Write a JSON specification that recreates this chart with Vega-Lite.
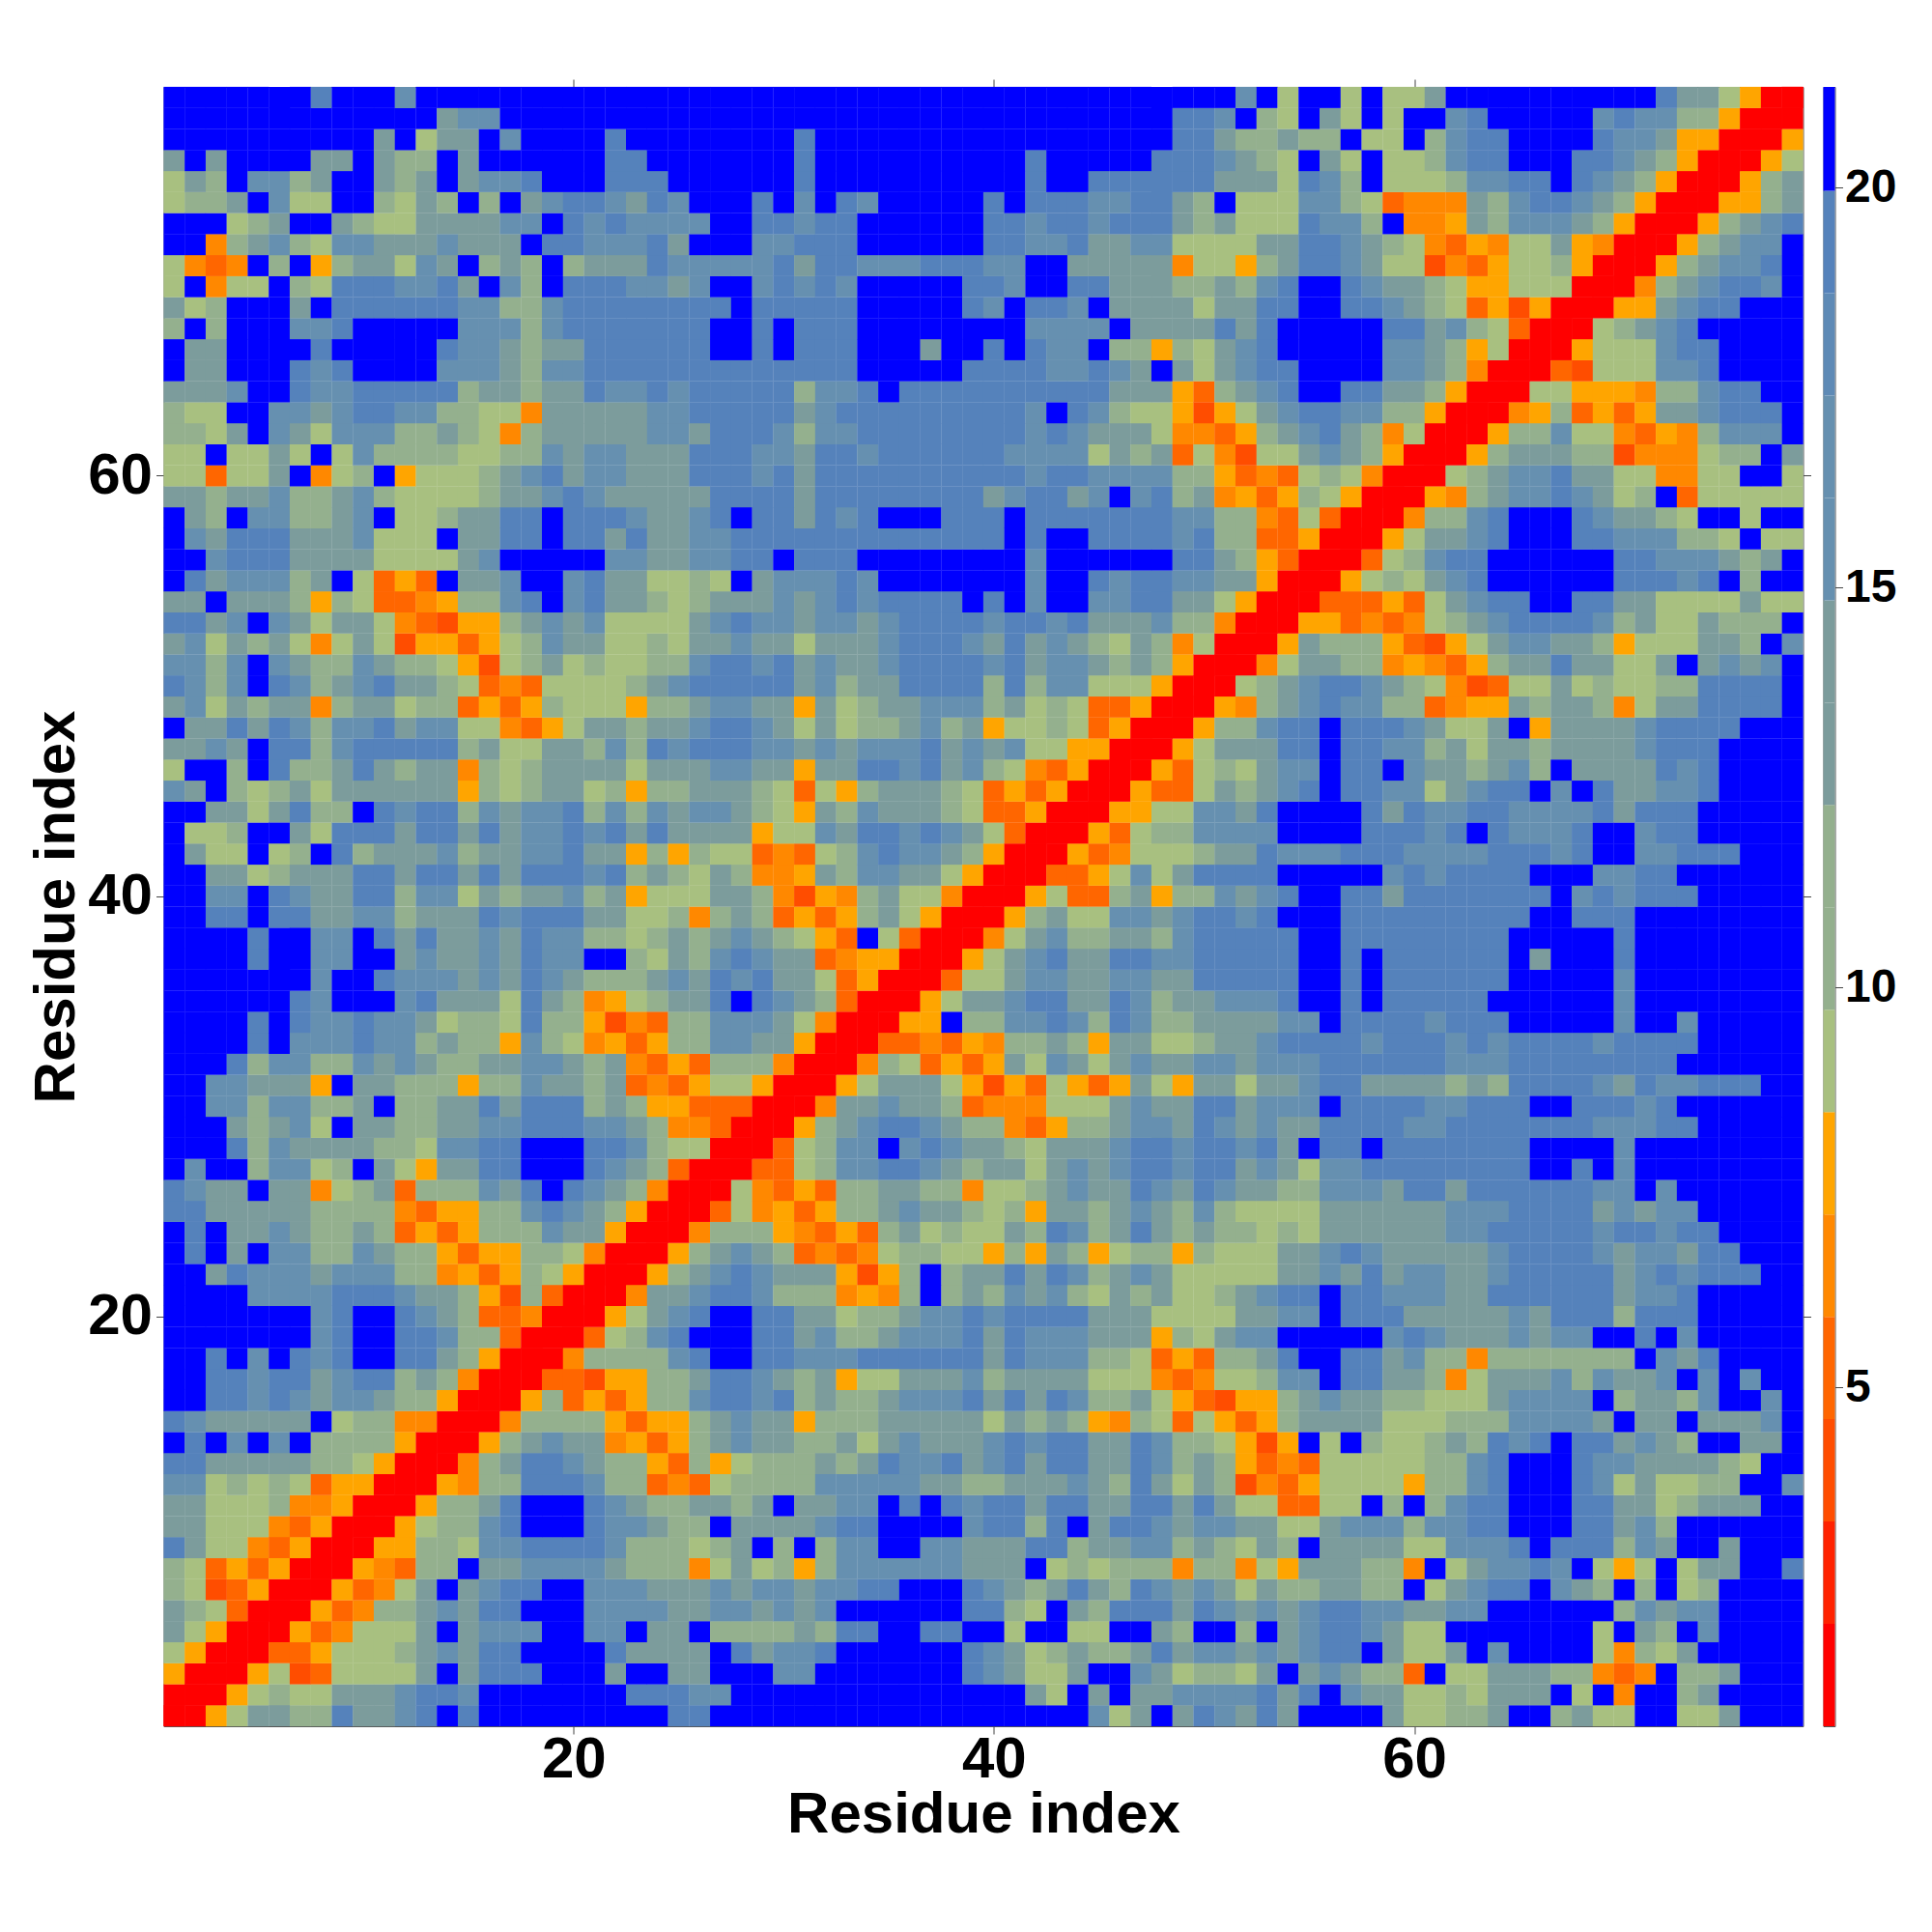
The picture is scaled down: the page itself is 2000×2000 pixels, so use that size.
{"$schema":"https://vega.github.io/schema/vega-lite/v6.json","background":"white","padding":{"left":27.5,"top":81,"right":0,"bottom":0},"config":{"view":{"stroke":"#555555","strokeWidth":1},"font":"Liberation Sans"},"spacing":11,"datasets":{"bands":[{"lo":0.76,"hi":2.04,"v":1.4},{"lo":2.04,"hi":3.32,"v":2.7},{"lo":3.32,"hi":4.6,"v":4},{"lo":4.6,"hi":5.88,"v":5.2},{"lo":5.88,"hi":7.16,"v":6.5},{"lo":7.16,"hi":8.44,"v":7.8},{"lo":8.44,"hi":9.72,"v":9.1},{"lo":9.72,"hi":11,"v":10.4},{"lo":11,"hi":12.28,"v":11.6},{"lo":12.28,"hi":13.56,"v":12.9},{"lo":13.56,"hi":14.84,"v":14.2},{"lo":14.84,"hi":16.12,"v":15.5},{"lo":16.12,"hi":17.4,"v":16.8},{"lo":17.4,"hi":18.68,"v":18.1},{"lo":18.68,"hi":19.96,"v":19.3},{"lo":19.96,"hi":21.26,"v":20.6}],
"cells":[
{"y":1,"x":[1,2,3,4,5,6,7,8,9,10,11,12,13,14,15,16,17,18,19,20,21,22,23,24,25,26,27,28,29,30,31,32,33,34,35,36,37,38,39,40,41,42,43,44,45,46,47,48,49,50,51,52,53,54,55,56,57,58,59,60,61,62,63,64,65,66,67,68,69,70,71,72,73,74,75,76,77,78],"v":[1,1,8,9,13,13,10,10,19,13,13,16,19,21,19,21,21,21,21,21,21,21,21,21,19,19,21,21,21,21,21,21,21,21,21,21,21,21,21,21,21,21,21,21,16,9,13,21,13,19,16,13,19,13,21,21,21,21,13,9,9,10,10,13,21,21,10,13,9,9,21,21,9,9,13,21,21,21]},
{"y":2,"x":[2,3,4,5,6,7,8,9,10,11,12,13,14,15,16,17,18,19,20,21,22,23,24,25,26,27,28,29,30,31,32,33,34,35,36,37,38,39,40,41,42,43,44,45,46,47,48,49,50,51,52,53,54,55,56,57,58,59,60,61,62,63,64,65,66,67,68,69,70,71,72,73,74,75,76,77,78],"v":[1,1,8,9,10,9,9,13,13,13,16,19,19,16,21,21,21,21,21,21,21,19,19,19,16,16,21,21,21,21,21,21,21,21,21,21,21,21,21,21,13,9,21,13,21,13,13,16,16,16,16,19,13,19,21,16,13,13,9,9,10,9,13,13,13,21,9,21,6,21,21,10,13,21,21,21,21]},
{"y":3,"x":[3,4,5,6,7,8,9,10,11,12,13,14,15,16,17,18,19,20,21,22,23,24,25,26,27,28,29,30,31,32,33,34,35,36,37,38,39,40,41,42,43,44,45,46,47,48,49,50,51,52,53,54,55,56,57,58,59,60,61,62,63,64,65,66,67,68,69,70,71,72,73,74,75,76,77,78],"v":[1,1,8,9,4,5,9,9,9,9,13,21,13,19,19,19,21,21,21,13,21,21,13,13,21,21,21,16,16,21,21,21,21,21,21,21,19,16,13,9,9,13,21,21,16,13,9,10,10,9,13,21,13,16,13,10,10,5,21,9,9,13,13,13,10,10,6,5,6,21,10,10,13,21,21,21]},
{"y":4,"x":[4,5,6,7,8,9,10,11,12,13,14,15,16,17,18,19,20,21,22,23,24,25,26,27,28,29,30,31,32,33,34,35,36,37,38,39,40,41,42,43,44,45,46,47,48,49,50,51,52,53,54,55,56,57,58,59,60,61,62,63,64,65,66,67,68,69,70,71,72,73,74,75,76,77,78],"v":[1,1,5,5,8,9,9,9,10,13,16,13,19,19,21,21,21,21,19,13,13,13,13,21,19,13,16,16,19,21,21,21,21,21,21,19,16,13,9,10,13,10,10,13,19,13,16,16,13,16,13,16,19,19,21,13,9,9,13,21,16,21,21,21,21,9,6,10,9,13,21,21,21,21,21]},
{"y":5,"x":[5,6,7,8,9,10,11,12,13,14,15,16,17,18,19,20,21,22,23,24,25,26,27,28,29,30,31,32,33,34,35,36,37,38,39,40,41,42,43,44,45,46,47,48,49,50,51,52,53,54,55,56,57,58,59,60,61,62,63,64,65,66,67,68,69,70,71,72,73,74,75,76,77,78],"v":[1,1,8,5,6,9,9,9,13,21,13,16,16,16,21,21,16,16,21,13,13,21,10,10,10,10,13,10,19,19,21,21,19,19,21,21,9,21,21,9,9,21,21,13,10,21,21,10,21,13,16,19,19,16,13,9,9,21,21,21,21,21,21,21,9,21,13,10,21,16,21,21,21,21]},
{"y":6,"x":[6,7,8,9,10,11,12,13,14,15,16,17,18,19,20,21,22,23,24,25,26,27,28,29,30,31,32,33,34,35,36,37,38,39,40,41,42,43,44,45,46,47,48,49,50,51,52,53,54,55,56,57,58,59,60,61,62,63,64,65,66,67,68,69,70,71,72,73,74,75,76,77,78],"v":[1,1,8,5,6,10,10,13,16,13,19,19,21,21,21,16,16,16,16,13,13,16,16,13,16,13,16,21,21,21,21,21,21,19,19,10,9,21,13,10,19,19,19,13,19,16,13,16,13,16,19,19,16,16,13,13,16,16,21,21,21,21,21,21,10,16,13,16,16,21,21,21,21]},
{"y":7,"x":[7,8,9,10,11,12,13,14,15,16,17,18,19,20,21,22,23,24,25,26,27,28,29,30,31,32,33,34,35,36,37,38,39,40,41,42,43,44,45,46,47,48,49,50,51,52,53,54,55,56,57,58,59,60,61,62,63,64,65,66,67,68,69,70,71,72,73,74,75,76,77,78],"v":[1,1,8,5,6,9,13,21,13,16,19,19,21,21,16,16,16,13,13,13,16,13,16,16,13,16,16,19,19,21,21,21,19,16,13,10,13,19,13,10,19,16,13,16,13,9,13,10,10,13,13,10,10,21,9,13,16,19,19,21,16,13,10,21,10,21,9,10,21,21,21,21]},
{"y":8,"x":[8,9,10,11,12,13,14,15,16,17,18,19,20,21,22,23,24,25,26,27,28,29,30,31,32,33,34,35,36,37,38,39,40,41,42,43,44,45,46,47,48,49,50,51,52,53,54,55,56,57,58,59,60,61,62,63,64,65,66,67,68,69,70,71,72,73,74,75,76,77,78],"v":[1,1,8,6,5,10,10,21,13,13,16,16,16,16,13,10,10,10,6,9,13,9,10,8,10,16,16,16,16,16,16,13,13,13,21,9,10,9,10,10,10,6,10,10,6,9,8,13,13,13,10,10,6,21,9,13,16,16,19,16,21,9,8,9,21,9,13,13,21,21,19]},
{"y":9,"x":[9,10,11,12,13,14,15,16,17,18,19,20,21,22,23,24,25,26,27,28,29,30,31,32,33,34,35,36,37,38,39,40,41,42,43,44,45,46,47,48,49,50,51,52,53,54,55,56,57,58,59,60,61,62,63,64,65,66,67,68,69,70,71,72,73,74,75,76,77,78],"v":[1,1,8,8,10,10,9,16,16,19,19,19,19,16,10,10,10,9,10,13,21,10,21,10,16,16,21,21,16,16,13,13,13,19,19,10,13,13,16,16,10,13,10,9,13,10,21,13,13,13,13,9,9,16,16,16,19,21,19,19,19,10,16,13,21,21,13,21,21,21]},
{"y":10,"x":[10,11,12,13,14,15,16,17,18,19,20,21,22,23,24,25,26,27,28,29,30,31,32,33,34,35,36,37,38,39,40,41,42,43,44,45,46,47,48,49,50,51,52,53,54,55,56,57,58,59,60,61,62,63,64,65,66,67,68,69,70,71,72,73,74,75,76,77,78],"v":[1,1,8,9,10,10,16,19,21,21,21,19,16,16,13,10,10,21,13,13,13,13,16,19,19,21,21,21,21,16,19,19,10,19,21,13,19,19,16,13,16,16,13,13,9,9,13,16,16,16,10,16,16,19,19,21,21,21,19,19,13,16,10,21,21,21,21,21,21]},
{"y":11,"x":[11,12,13,14,15,16,17,18,19,20,21,22,23,24,25,26,27,28,29,30,31,32,33,34,35,36,37,38,39,40,41,42,43,44,45,46,47,48,49,50,51,52,53,54,55,56,57,58,59,60,61,62,63,64,65,66,67,68,69,70,71,72,73,74,75,76,77,78],"v":[1,1,8,10,10,13,19,21,21,21,19,16,13,10,10,13,13,10,13,21,13,13,16,16,21,19,21,19,16,19,19,13,19,19,13,13,19,19,13,19,13,9,9,5,5,9,9,21,10,21,10,16,19,19,21,21,21,19,19,13,13,9,10,13,13,13,21,21]},
{"y":12,"x":[12,13,14,15,16,17,18,19,20,21,22,23,24,25,26,27,28,29,30,31,32,33,34,35,36,37,38,39,40,41,42,43,44,45,46,47,48,49,50,51,52,53,54,55,56,57,58,59,60,61,62,63,64,65,66,67,68,69,70,71,72,73,74,75,76,77,78],"v":[1,1,8,6,10,10,19,19,19,16,10,10,5,6,5,9,10,10,10,10,16,16,16,16,16,13,13,10,10,13,13,13,16,13,10,19,13,9,13,10,4,6,5,8,9,9,9,9,8,10,10,16,19,21,21,21,19,16,9,13,9,9,10,10,21,21,16]},
{"y":13,"x":[13,14,15,16,17,18,19,20,21,22,23,24,25,26,27,28,29,30,31,32,33,34,35,36,37,38,39,40,41,42,43,44,45,46,47,48,49,50,51,52,53,54,55,56,57,58,59,60,61,62,63,64,65,66,67,68,69,70,71,72,73,74,75,76,77,78],"v":[1,1,6,10,13,19,19,16,13,10,10,8,5,10,8,9,10,10,10,13,10,13,19,16,16,19,13,16,19,13,19,19,13,13,19,16,10,13,10,8,5,6,5,9,9,9,9,9,10,10,16,19,21,21,21,19,16,16,13,13,13,13,10,9,21,21]},
{"y":14,"x":[14,15,16,17,18,19,20,21,22,23,24,25,26,27,28,29,30,31,32,33,34,35,36,37,38,39,40,41,42,43,44,45,46,47,48,49,50,51,52,53,54,55,56,57,58,59,60,61,62,63,64,65,66,67,68,69,70,71,72,73,74,75,76,77,78],"v":[1,1,8,10,13,16,13,13,6,8,5,8,10,13,16,13,13,10,10,13,9,13,16,13,13,13,16,19,16,19,19,13,13,19,16,10,10,9,8,4,8,21,9,21,10,9,9,10,13,10,19,16,19,21,19,19,13,16,13,10,21,21,13,13,21]},
{"y":15,"x":[15,16,17,18,19,20,21,22,23,24,25,26,27,28,29,30,31,32,33,34,35,36,37,38,39,40,41,42,43,44,45,46,47,48,49,50,51,52,53,54,55,56,57,58,59,60,61,62,63,64,65,66,67,68,69,70,71,72,73,74,75,76,77,78],"v":[1,1,6,10,10,10,10,8,5,8,8,10,13,16,13,13,8,10,10,10,13,13,13,13,13,9,13,10,13,10,8,6,10,9,5,9,8,5,8,10,13,13,13,13,9,9,9,10,10,10,16,16,16,16,13,21,13,13,21,13,13,13,16,21]},
{"y":16,"x":[16,17,18,19,20,21,22,23,24,25,26,27,28,29,30,31,32,33,34,35,36,37,38,39,40,41,42,43,44,45,46,47,48,49,50,51,52,53,54,55,56,57,58,59,60,61,62,63,64,65,66,67,68,69,70,71,72,73,74,75,76,77,78],"v":[1,1,8,10,5,8,5,8,10,10,16,19,19,16,19,10,13,10,10,13,16,16,16,19,13,19,13,19,16,10,10,13,9,8,5,4,8,8,10,13,16,13,13,10,10,9,9,9,13,16,16,16,16,21,10,13,13,10,16,21,21,16,21]},
{"y":17,"x":[17,18,19,20,21,22,23,24,25,26,27,28,29,30,31,32,33,34,35,36,37,38,39,40,41,42,43,44,45,46,47,48,49,50,51,52,53,54,55,56,57,58,59,60,61,62,63,64,65,66,67,68,69,70,71,72,73,74,75,76,77,78],"v":[1,1,5,5,4,8,8,10,10,13,19,19,16,13,10,13,8,9,9,13,13,13,16,10,13,13,13,13,9,9,9,6,5,6,9,9,10,16,16,21,19,19,13,13,10,6,9,13,13,13,16,10,16,13,13,16,21,16,21,16,21,21]},
{"y":18,"x":[18,19,20,21,22,23,24,25,26,27,28,29,30,31,32,33,34,35,36,37,38,39,40,41,42,43,44,45,46,47,48,49,50,51,52,53,54,55,56,57,58,59,60,61,62,63,64,65,66,67,68,69,70,71,72,73,74,75,76,77,78],"v":[1,1,6,10,10,10,10,16,19,21,21,19,19,16,16,16,19,19,19,19,19,19,13,19,16,16,16,10,10,9,5,8,5,10,10,13,19,21,21,19,19,13,16,10,10,6,10,10,10,10,10,10,10,21,16,13,19,21,21,21,21]},
{"y":19,"x":[19,20,21,22,23,24,25,26,27,28,29,30,31,32,33,34,35,36,37,38,39,40,41,42,43,44,45,46,47,48,49,50,51,52,53,54,55,56,57,58,59,60,61,62,63,64,65,66,67,68,69,70,71,72,73,74,75,76,77,78],"v":[1,1,5,9,10,16,19,21,21,21,19,19,13,16,10,10,13,16,16,16,19,13,19,16,16,16,13,13,13,8,10,9,13,16,16,21,21,21,21,21,16,19,16,13,13,13,16,13,16,16,21,21,19,21,16,21,21,21,21,21]},
{"y":20,"x":[20,21,22,23,24,25,26,27,28,29,30,31,32,33,34,35,36,37,38,39,40,41,42,43,44,45,46,47,48,49,50,51,52,53,54,55,56,57,58,59,60,61,62,63,64,65,66,67,68,69,70,71,72,73,74,75,76,77,78],"v":[1,1,8,9,13,16,19,21,21,19,19,13,13,9,10,10,13,16,16,19,16,19,19,19,19,13,13,13,9,9,9,9,13,13,16,16,21,19,19,19,13,13,13,13,13,16,13,19,19,19,10,19,19,19,21,21,21,21,21]},
{"y":21,"x":[21,22,23,24,25,26,27,28,29,30,31,32,33,34,35,36,37,38,39,40,41,42,43,44,45,46,47,48,49,50,51,52,53,54,55,56,57,58,59,60,61,62,63,64,65,66,67,68,69,70,71,72,73,74,75,76,77,78],"v":[1,1,6,13,13,16,19,19,16,10,10,10,6,8,6,10,21,10,13,10,16,13,16,10,9,13,10,13,9,9,10,13,16,19,19,21,19,19,16,16,16,13,13,19,19,19,19,19,19,13,16,16,19,21,21,21,21,21]},
{"y":22,"x":[22,23,24,25,26,27,28,29,30,31,32,33,34,35,36,37,38,39,40,41,42,43,44,45,46,47,48,49,50,51,52,53,54,55,56,57,58,59,60,61,62,63,64,65,66,67,68,69,70,71,72,73,74,75,76,77,78],"v":[1,1,8,10,13,16,19,16,13,13,13,8,4,8,10,21,10,13,13,19,13,19,16,10,13,16,13,9,9,9,9,9,13,13,16,13,19,13,16,16,13,13,16,19,19,19,19,19,13,16,19,16,19,19,19,21,21]},
{"y":23,"x":[23,24,25,26,27,28,29,30,31,32,33,34,35,36,37,38,39,40,41,42,43,44,45,46,47,48,49,50,51,52,53,54,55,56,57,58,59,60,61,62,63,64,65,66,67,68,69,70,71,72,73,74,75,76,77,78],"v":[1,1,8,10,13,16,13,10,5,6,5,6,9,10,10,9,9,8,10,8,13,10,8,9,10,10,8,10,9,9,9,13,13,16,19,16,13,13,13,13,13,16,19,19,19,19,16,13,16,16,13,19,19,21,21,21]},
{"y":24,"x":[24,25,26,27,28,29,30,31,32,33,34,35,36,37,38,39,40,41,42,43,44,45,46,47,48,49,50,51,52,53,54,55,56,57,58,59,60,61,62,63,64,65,66,67,68,69,70,71,72,73,74,75,76,77,78],"v":[1,1,6,10,10,10,8,6,5,8,5,10,13,9,10,9,9,13,10,19,16,10,13,19,13,10,13,10,10,9,10,9,13,13,13,13,13,13,16,16,19,19,19,19,19,16,19,19,16,19,19,21,21,21,21]},
{"y":25,"x":[25,26,27,28,29,30,31,32,33,34,35,36,37,38,39,40,41,42,43,44,45,46,47,48,49,50,51,52,53,54,55,56,57,58,59,60,61,62,63,64,65,66,67,68,69,70,71,72,73,74,75,76,77,78],"v":[1,1,5,9,6,8,5,8,10,10,13,16,13,13,10,9,10,8,13,13,10,13,16,13,10,16,10,9,9,9,9,13,13,13,13,13,13,16,16,16,19,19,19,19,13,16,13,16,16,21,21,21,21,21]},
{"y":26,"x":[26,27,28,29,30,31,32,33,34,35,36,37,38,39,40,41,42,43,44,45,46,47,48,49,50,51,52,53,54,55,56,57,58,59,60,61,62,63,64,65,66,67,68,69,70,71,72,73,74,75,76,77,78],"v":[1,1,9,6,5,8,5,10,10,13,13,10,10,6,9,9,10,13,16,13,13,19,16,13,19,16,13,13,10,10,16,16,16,13,19,19,13,19,19,19,19,19,19,16,16,21,16,21,21,21,21,21,21]},
{"y":27,"x":[27,28,29,30,31,32,33,34,35,36,37,38,39,40,41,42,43,44,45,46,47,48,49,50,51,52,53,54,55,56,57,58,59,60,61,62,63,64,65,66,67,68,69,70,71,72,73,74,75,76,77,78],"v":[1,1,5,5,9,10,16,16,19,19,16,13,10,13,13,9,13,16,13,16,19,19,16,19,19,13,16,13,9,16,16,19,19,19,19,19,19,19,19,21,21,19,21,16,21,21,21,21,21,21,21,21]},
{"y":28,"x":[28,29,30,31,32,33,34,35,36,37,38,39,40,41,42,43,44,45,46,47,48,49,50,51,52,53,54,55,56,57,58,59,60,61,62,63,64,65,66,67,68,69,70,71,72,73,74,75,76,77,78],"v":[1,1,5,9,10,16,16,21,16,19,16,13,13,10,9,13,13,13,16,19,19,16,19,19,16,19,13,21,19,19,21,19,19,19,19,19,19,19,21,21,21,21,16,21,21,21,21,21,21,21,21]},
{"y":29,"x":[29,30,31,32,33,34,35,36,37,38,39,40,41,42,43,44,45,46,47,48,49,50,51,52,53,54,55,56,57,58,59,60,61,62,63,64,65,66,67,68,69,70,71,72,73,74,75,76,77,78],"v":[1,1,8,10,13,16,19,19,16,13,10,10,6,5,8,10,10,13,16,16,13,19,16,13,16,13,13,19,19,19,19,16,16,19,19,19,19,19,19,19,16,16,16,19,19,21,21,21,21,21]},
{"y":30,"x":[30,31,32,33,34,35,36,37,38,39,40,41,42,43,44,45,46,47,48,49,50,51,52,53,54,55,56,57,58,59,60,61,62,63,64,65,66,67,68,69,70,71,72,73,74,75,76,77,78],"v":[1,1,6,13,13,16,13,13,10,5,6,6,6,9,9,9,13,16,13,13,19,19,13,16,16,16,21,19,19,19,19,16,16,19,19,19,21,21,19,19,19,16,19,21,21,21,21,21,21]},
{"y":31,"x":[31,32,33,34,35,36,37,38,39,40,41,42,43,44,45,46,47,48,49,50,51,52,53,54,55,56,57,58,59,60,61,62,63,64,65,66,67,68,69,70,71,72,73,74,75,76,77,78],"v":[1,1,8,9,13,13,13,9,8,4,8,5,9,8,5,8,13,9,8,13,13,9,13,13,16,19,19,13,13,13,13,10,13,10,19,19,19,19,16,13,19,16,16,19,19,19,21,21]},
{"y":32,"x":[32,33,34,35,36,37,38,39,40,41,42,43,44,45,46,47,48,49,50,51,52,53,54,55,56,57,58,59,60,61,62,63,64,65,66,67,68,69,70,71,72,73,74,75,76,77,78],"v":[1,1,6,10,9,5,8,5,8,13,9,16,13,9,13,16,13,13,16,16,13,16,16,16,19,19,19,19,19,19,16,16,16,19,19,19,19,19,19,19,19,21,21,21,21,21,21]},
{"y":33,"x":[33,34,35,36,37,38,39,40,41,42,43,44,45,46,47,48,49,50,51,52,53,54,55,56,57,58,59,60,61,62,63,64,65,66,67,68,69,70,71,72,73,74,75,76,77,78],"v":[1,1,5,5,6,5,8,6,10,10,13,10,8,13,13,9,9,10,13,13,16,19,19,19,19,16,19,19,19,16,19,16,19,19,19,19,16,19,19,19,19,21,21,21,21,21]},
{"y":34,"x":[34,35,36,37,38,39,40,41,42,43,44,45,46,47,48,49,50,51,52,53,54,55,56,57,58,59,60,61,62,63,64,65,66,67,68,69,70,71,72,73,74,75,76,77,78],"v":[1,1,8,8,21,10,10,16,16,19,16,10,19,16,10,10,13,13,13,13,16,16,21,19,19,19,19,16,19,19,19,21,21,21,21,21,16,21,21,16,21,21,21,21,21]},
{"y":35,"x":[35,36,37,38,39,40,41,42,43,44,45,46,47,48,49,50,51,52,53,54,55,56,57,58,59,60,61,62,63,64,65,66,67,68,69,70,71,72,73,74,75,76,77,78],"v":[1,1,8,9,13,13,16,19,19,13,13,19,16,10,13,13,16,16,16,19,21,21,19,21,19,19,19,19,19,21,21,21,21,21,21,16,21,21,21,21,21,21,21,21]},
{"y":36,"x":[36,37,38,39,40,41,42,43,44,45,46,47,48,49,50,51,52,53,54,55,56,57,58,59,60,61,62,63,64,65,66,67,68,69,70,71,72,73,74,75,76,77,78],"v":[1,1,5,9,9,13,16,16,13,13,16,16,13,13,19,19,19,19,19,21,21,19,21,19,19,19,19,19,19,21,21,21,21,21,16,21,21,21,21,21,21,21,21]},
{"y":37,"x":[37,38,39,40,41,42,43,44,45,46,47,48,49,50,51,52,53,54,55,56,57,58,59,60,61,62,63,64,65,66,67,68,69,70,71,72,73,74,75,76,77,78],"v":[1,1,8,9,13,16,19,13,13,19,19,16,16,19,19,19,19,19,21,21,19,21,19,19,19,19,19,19,21,13,21,21,21,19,21,21,21,21,21,21,21,21]},
{"y":38,"x":[38,39,40,41,42,43,44,45,46,47,48,49,50,51,52,53,54,55,56,57,58,59,60,61,62,63,64,65,66,67,68,69,70,71,72,73,74,75,76,77,78],"v":[1,1,6,9,13,16,10,10,13,13,10,16,19,19,19,19,19,21,21,19,19,19,19,19,19,19,19,21,21,21,21,21,19,21,21,21,21,21,21,21,21]},
{"y":39,"x":[39,40,41,42,43,44,45,46,47,48,49,50,51,52,53,54,55,56,57,58,59,60,61,62,63,64,65,66,67,68,69,70,71,72,73,74,75,76,77,78],"v":[1,1,8,10,13,9,9,16,16,13,16,19,19,16,19,21,21,21,19,19,19,19,19,19,19,19,19,21,21,19,19,19,21,21,21,21,21,21,21,21]},
{"y":40,"x":[40,41,42,43,44,45,46,47,48,49,50,51,52,53,54,55,56,57,58,59,60,61,62,63,64,65,66,67,68,69,70,71,72,73,74,75,76,77,78],"v":[1,1,8,9,5,5,10,13,8,10,10,16,13,16,19,21,21,19,19,13,19,19,19,19,19,19,19,21,16,19,16,19,19,19,21,21,21,21,21]},
{"y":41,"x":[41,42,43,44,45,46,47,48,49,50,51,52,53,54,55,56,57,58,59,60,61,62,63,64,65,66,67,68,69,70,71,72,73,74,75,76,77,78],"v":[1,1,5,5,8,9,16,9,13,19,19,19,19,21,21,21,21,21,16,19,16,19,19,19,19,21,21,21,16,16,19,19,21,21,21,21,21,21]},
{"y":42,"x":[42,43,44,45,46,47,48,49,50,51,52,53,54,55,56,57,58,59,60,61,62,63,64,65,66,67,68,69,70,71,72,73,74,75,76,77,78],"v":[1,1,8,5,6,9,9,9,10,13,13,19,16,16,16,19,19,19,16,16,16,16,19,19,19,16,19,21,21,16,16,19,19,19,21,21,21]},
{"y":43,"x":[43,44,45,46,47,48,49,50,51,52,53,54,55,56,57,58,59,60,61,62,63,64,65,66,67,68,69,70,71,72,73,74,75,76,77,78],"v":[1,1,8,5,9,10,10,16,16,16,16,21,21,21,21,19,19,19,16,19,21,19,16,16,16,19,21,21,16,19,19,21,21,21,21,21]},
{"y":44,"x":[44,45,46,47,48,49,50,51,52,53,54,55,56,57,58,59,60,61,62,63,64,65,66,67,68,69,70,71,72,73,74,75,76,77,78],"v":[1,1,8,8,9,9,16,16,13,19,21,21,21,21,19,13,19,16,16,19,19,16,16,16,16,19,13,19,19,19,21,21,21,21,21]},
{"y":45,"x":[45,46,47,48,49,50,51,52,53,54,55,56,57,58,59,60,61,62,63,64,65,66,67,68,69,70,71,72,73,74,75,76,77,78],"v":[1,1,8,5,5,9,13,10,13,16,19,21,19,19,16,16,9,13,16,19,19,21,16,21,19,13,13,16,16,19,21,21,21,21]},
{"y":46,"x":[46,47,48,49,50,51,52,53,54,55,56,57,58,59,60,61,62,63,64,65,66,67,68,69,70,71,72,73,74,75,76,77,78],"v":[1,1,8,5,9,10,9,13,16,16,21,19,19,21,16,13,13,10,13,16,10,21,13,13,13,13,19,16,19,21,21,21,21]},
{"y":47,"x":[47,48,49,50,51,52,53,54,55,56,57,58,59,60,61,62,63,64,65,66,67,68,69,70,71,72,73,74,75,76,77,78],"v":[1,1,8,9,13,13,13,19,19,21,19,19,16,16,10,13,9,13,13,10,13,13,13,13,16,19,19,19,21,21,21,21]},
{"y":48,"x":[48,49,50,51,52,53,54,55,56,57,58,59,60,61,62,63,64,65,66,67,68,69,70,71,72,73,74,75,76,77,78],"v":[1,1,8,10,10,16,19,19,21,19,19,19,16,13,9,9,13,21,8,13,13,13,13,16,19,19,19,19,21,21,21]},
{"y":49,"x":[49,50,51,52,53,54,55,56,57,58,59,60,61,62,63,64,65,66,67,68,69,70,71,72,73,74,75,76,77,78],"v":[1,1,8,6,10,13,16,19,16,16,10,10,5,6,8,8,13,10,13,13,10,6,9,13,13,19,19,19,19,21]},
{"y":50,"x":[50,51,52,53,54,55,56,57,58,59,60,61,62,63,64,65,66,67,68,69,70,71,72,73,74,75,76,77,78],"v":[1,1,9,10,13,16,19,19,16,13,10,9,6,4,5,9,9,13,9,10,9,9,10,10,19,19,19,19,21]},
{"y":51,"x":[51,52,53,54,55,56,57,58,59,60,61,62,63,64,65,66,67,68,69,70,71,72,73,74,75,76,77,78],"v":[1,1,6,9,13,13,10,10,6,8,6,5,8,10,13,13,19,13,13,9,9,13,21,13,16,13,16,21]},
{"y":52,"x":[52,53,54,55,56,57,58,59,60,61,62,63,64,65,66,67,68,69,70,71,72,73,74,75,76,77,78],"v":[1,1,8,13,10,10,10,8,5,4,8,9,13,16,16,13,13,10,8,9,9,9,13,13,10,21,16]},
{"y":53,"x":[53,54,55,56,57,58,59,60,61,62,63,64,65,66,67,68,69,70,71,72,73,74,75,76,77,78],"v":[1,1,8,8,5,6,5,6,9,10,13,16,19,19,19,19,16,10,13,9,9,13,10,10,10,21]},
{"y":54,"x":[54,55,56,57,58,59,60,61,62,63,64,65,66,67,68,69,70,71,72,73,74,75,76,77,78],"v":[1,1,5,5,5,8,5,9,13,16,19,19,21,21,19,19,13,13,9,9,9,9,13,9,9]},
{"y":55,"x":[55,56,57,58,59,60,61,62,63,64,65,66,67,68,69,70,71,72,73,74,75,76,77,78],"v":[1,1,8,9,10,9,13,16,19,21,21,21,21,21,21,19,19,19,16,19,21,10,21,21]},
{"y":56,"x":[56,57,58,59,60,61,62,63,64,65,66,67,68,69,70,71,72,73,74,75,76,77,78],"v":[1,1,5,9,10,16,19,19,21,21,21,21,21,21,19,19,16,16,16,13,10,13,21]},
{"y":57,"x":[57,58,59,60,61,62,63,64,65,66,67,68,69,70,71,72,73,74,75,76,77,78],"v":[1,1,8,9,13,13,16,19,21,21,21,19,19,16,16,16,10,10,9,21,9,9]},
{"y":58,"x":[58,59,60,61,62,63,64,65,66,67,68,69,70,71,72,73,74,75,76,77,78],"v":[1,1,6,10,10,16,19,21,21,21,19,16,13,13,10,9,21,21,9,21,21]},
{"y":59,"x":[59,60,61,62,63,64,65,66,67,68,69,70,71,72,73,74,75,76,77,78],"v":[1,1,8,6,10,13,16,16,19,16,13,9,10,21,5,9,9,9,9,9]},
{"y":60,"x":[60,61,62,63,64,65,66,67,68,69,70,71,72,73,74,75,76,77,78],"v":[1,1,9,10,13,16,16,19,13,13,9,9,6,6,9,9,21,21,9]},
{"y":61,"x":[61,62,63,64,65,66,67,68,69,70,71,72,73,74,75,76,77,78],"v":[1,1,8,10,13,13,13,10,10,4,6,6,6,9,10,10,21,13]},
{"y":62,"x":[62,63,64,65,66,67,68,69,70,71,72,73,74,75,76,77,78],"v":[1,1,8,10,10,16,9,9,6,5,8,6,10,16,16,16,21]},
{"y":63,"x":[63,64,65,66,67,68,69,70,71,72,73,74,75,76,77,78],"v":[1,1,6,8,10,5,8,5,8,13,13,16,19,19,19,21]},
{"y":64,"x":[64,65,66,67,68,69,70,71,72,73,74,75,76,77,78],"v":[1,1,9,9,8,8,8,6,10,10,16,19,19,21,21]},
{"y":65,"x":[65,66,67,68,69,70,71,72,73,74,75,76,77,78],"v":[1,1,5,4,9,9,9,16,16,19,21,21,21,21]},
{"y":66,"x":[66,67,68,69,70,71,72,73,74,75,76,77,78],"v":[1,1,8,9,9,9,16,19,19,21,21,21,21]},
{"y":67,"x":[67,68,69,70,71,72,73,74,75,76,77,78],"v":[1,1,9,10,13,16,19,21,21,21,21,21]},
{"y":68,"x":[68,69,70,71,72,73,74,75,76,77,78],"v":[1,1,8,8,13,16,19,19,21,21,21]},
{"y":69,"x":[69,70,71,72,73,74,75,76,77,78],"v":[1,1,6,10,13,16,19,19,16,21]},
{"y":70,"x":[70,71,72,73,74,75,76,77,78],"v":[1,1,8,10,13,16,16,19,21]},
{"y":71,"x":[71,72,73,74,75,76,77,78],"v":[1,1,8,10,13,16,16,21]},
{"y":72,"x":[72,73,74,75,76,77,78],"v":[1,1,8,10,13,16,19]},
{"y":73,"x":[73,74,75,76,77,78],"v":[1,1,8,8,10,13]},
{"y":74,"x":[74,75,76,77,78],"v":[1,1,8,10,13]},
{"y":75,"x":[75,76,77,78],"v":[1,1,8,9]},
{"y":76,"x":[76,77,78],"v":[1,1,8]},
{"y":77,"x":[77,78],"v":[1,1]},
{"y":78,"x":[78],"v":[1]}
]},
"hconcat":[
{"width":1697,"height":1697,"data":{"name":"cells"},"transform":[{"flatten":["x","v"]}],
"resolve":{"axis":{"x":"independent","y":"independent"}},
"layer":[
{"mark":{"type":"rect","width":22,"height":22},"encoding":{
"x":{"field":"x","type":"quantitative","scale":{"domain":[0.5,78.5],"nice":false,"zero":false},"axis":{"values":[20,40,60],"grid":false,"domain":false,"tickSize":8,"tickColor":"#444444","tickWidth":1,"labelFont":"Liberation Sans","labelFontWeight":"bold","labelFontSize":60,"labelColor":"black","labelPadding":-3,"labelAngle":0,"title":"Residue index","titleFont":"Liberation Sans","titleFontWeight":"bold","titleFontSize":60,"titleColor":"black","titlePadding":-2}},
"y":{"field":"y","type":"quantitative","scale":{"domain":[0.5,78.5],"nice":false,"zero":false},"axis":{"values":[20,40,60],"grid":false,"domain":false,"tickSize":8,"tickColor":"#444444","tickWidth":1,"labelFont":"Liberation Sans","labelFontWeight":"bold","labelFontSize":60,"labelColor":"black","labelPadding":4,"title":"Residue index","titleFont":"Liberation Sans","titleFontWeight":"bold","titleFontSize":60,"titleColor":"black","titlePadding":1}},
"color":{"field":"v","type":"quantitative","legend":null,"scale":{"type":"threshold","domain":[2.04,3.32,4.6,5.88,7.16,8.44,9.72,11,12.28,13.56,14.84,16.12,17.4,18.68,19.96],"range":["#ff0000","#ff2200","#ff4d00","#ff6600","#ff8800","#ffa500","#a8c080","#94b08e","#94b08e","#7c9c9c","#7c9c9c","#6690b0","#6690b0","#5e8ab6","#5582bb","#0000ff"]}}}},
{"mark":{"type":"rect","width":22,"height":22},"encoding":{
"x":{"field":"y","type":"quantitative","scale":{"domain":[0.5,78.5],"nice":false,"zero":false},"axis":{"orient":"top","values":[20,40,60],"grid":false,"domain":false,"tickSize":8,"tickColor":"#444444","tickWidth":1,"labels":false,"title":null}},
"y":{"field":"x","type":"quantitative","scale":{"domain":[0.5,78.5],"nice":false,"zero":false},"axis":{"orient":"right","values":[20,40,60],"grid":false,"domain":false,"tickSize":8,"tickColor":"#444444","tickWidth":1,"labels":false,"title":null}},
"color":{"field":"v","type":"quantitative","legend":null,"scale":{"type":"threshold","domain":[2.04,3.32,4.6,5.88,7.16,8.44,9.72,11,12.28,13.56,14.84,16.12,17.4,18.68,19.96],"range":["#ff0000","#ff2200","#ff4d00","#ff6600","#ff8800","#ffa500","#a8c080","#94b08e","#94b08e","#7c9c9c","#7c9c9c","#6690b0","#6690b0","#5e8ab6","#5582bb","#0000ff"]}}}}
]},
{"width":12,"height":1697,"data":{"name":"bands"},"mark":{"type":"rect"},"encoding":{
"y":{"field":"lo","type":"quantitative","scale":{"domain":[0.76,21.26],"nice":false,"zero":false},"axis":{"orient":"right","values":[5,10,15,20],"grid":false,"domain":false,"tickSize":8,"tickColor":"#444444","tickWidth":1,"labelFont":"Liberation Sans","labelFontWeight":"bold","labelFontSize":48,"labelColor":"black","labelPadding":2,"title":null}},
"y2":{"field":"hi"},
"color":{"field":"v","type":"quantitative","legend":null,"scale":{"type":"threshold","domain":[2.04,3.32,4.6,5.88,7.16,8.44,9.72,11,12.28,13.56,14.84,16.12,17.4,18.68,19.96],"range":["#ff0000","#ff2200","#ff4d00","#ff6600","#ff8800","#ffa500","#a8c080","#9fb888","#94b08e","#84a496","#7c9c9c","#6c94a8","#6690b0","#5e8ab6","#5582bb","#0000ff"]}}}}
]}
